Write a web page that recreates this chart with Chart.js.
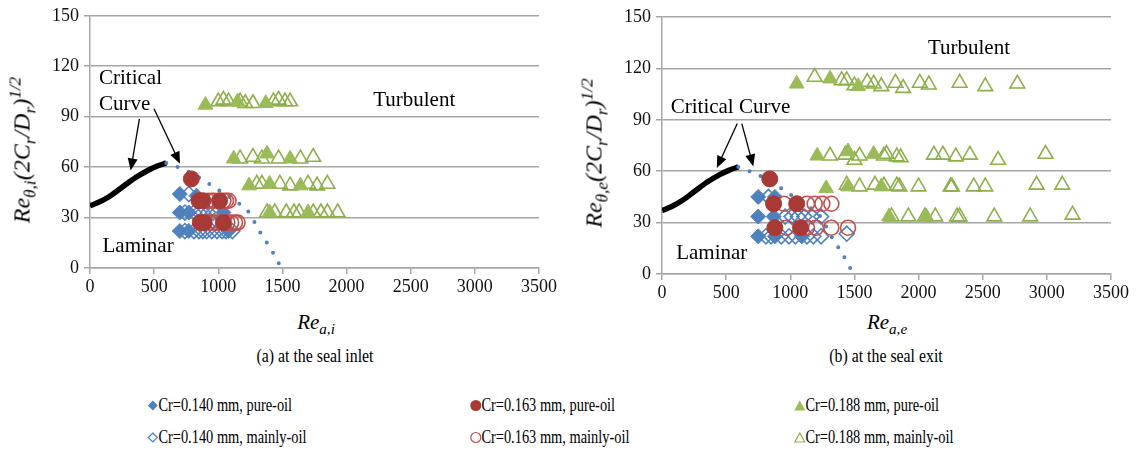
<!DOCTYPE html>
<html>
<head>
<meta charset="utf-8">
<script src="https://cdn.jsdelivr.net/npm/chart.js@4.4.1/dist/chart.umd.min.js"></script>
<style>
  body { margin: 0; background: #fff; width: 1138px; height: 454px; position: relative; overflow: hidden;
         font-family: "Liberation Serif", "Times New Roman", Tinos, "DejaVu Serif", serif; color: #000; }
  .pane { position: absolute; top: 0; }
  .lbl { position: absolute; white-space: nowrap; font-size: 18px; transform: translate(-50%, -50%); }
  .cap { font-size: 18px; transform: translate(-50%, -50%) scaleX(0.88); }
  .ax { font-style: italic; font-size: 21px; }
  .ytitle { transform: translate(-50%, -50%) rotate(-90deg); font-size: 24px; }
  sub, sup { font-size: 72%; line-height: 0; }
  .leg { position: absolute; font-size: 18px; white-space: nowrap; display: flex; align-items: center;
         transform: translateY(-50%) scaleX(0.8); transform-origin: left center; }
  .leg svg { margin-right: 1px; transform: scaleX(1.25); }
</style>
</head>
<body>

<div class="pane" style="left:0"><canvas id="inlet" width="569" height="300"></canvas></div>
<div class="pane" style="left:572px"><canvas id="exit" width="566" height="306"></canvas></div>

<div class="lbl ax" style="left:316px; top:322px">Re<sub>a,i</sub></div>
<div class="lbl ax" style="left:887px; top:322px">Re<sub>a,e</sub></div>
<div class="lbl ax ytitle" style="left:22px; top:150px">Re<sub>θ,i</sub>(2C<sub>r</sub>/D<sub>r</sub>)<sup>1/2</sup></div>
<div class="lbl ax ytitle" style="left:594px; top:153px">Re<sub>θ,e</sub>(2C<sub>r</sub>/D<sub>r</sub>)<sup>1/2</sup></div>
<div class="lbl cap" style="left:315px; top:356px">(a) at the seal inlet</div>
<div class="lbl cap" style="left:886px; top:356px">(b) at the seal exit</div>

<div id="legend"></div>

<script>
// critical curve (solid) and its continuation (dotted)
const critX = [0, 80, 160, 250, 350, 450, 520, 595];
const critY = [37, 39.5, 43, 48, 53.5, 58, 60.5, 62.5];
const dotX = [595, 700, 800, 900, 1000, 1100, 1150, 1200, 1250, 1300, 1350, 1400, 1450, 1490];
const dotY = [62.5, 59.5, 56, 51.5, 46.5, 41.5, 39, 36, 32, 24.5, 18.5, 12.5, 6, 0];

// seal inlet
const inBluePureX = [700, 830, 700, 770, 1040, 700, 770, 1080];
const inBluePureY = [44, 43, 33, 33, 33, 22, 22, 22];
const inBlueMainX = [770, 740, 810, 850, 880, 920, 960, 990, 740, 810, 850, 880, 910, 950, 990, 1030, 1060, 1110];
const inBlueMainY = [44, 33, 33, 33, 33, 33, 33, 33, 22, 22, 22, 22, 22, 22, 22, 22, 22, 22];
const inRedPureX = [790, 850, 880, 1010, 860, 890, 1040];
const inRedPureY = [53, 40, 40, 40, 27, 27, 27];
const inRedMainX = [920, 950, 970, 1040, 1060, 1080, 930, 960, 990, 1070, 1100, 1130, 1150];
const inRedMainY = [40, 40, 40, 40, 40, 40, 27, 27, 27, 27, 27, 27, 27];
const inGreenPureX = [900, 1150, 1370, 1120, 1380, 1560, 1240, 1400, 1640, 1400, 1700];
const inGreenPureY = [97, 99, 98, 65, 68, 65, 49, 50, 49, 33, 33];
const inGreenMainX = [1000, 1040, 1080, 1170, 1210, 1270, 1430, 1470, 1520, 1560,
                      1170, 1270, 1340, 1470, 1640, 1740,
                      1300, 1340, 1480, 1560, 1700, 1770, 1850,
                      1380, 1440, 1530, 1590, 1630, 1740, 1800, 1850, 1930];
const inGreenMainY = [99, 100, 99, 99, 98, 98, 99, 100, 99, 99,
                      65, 66, 65, 65, 65, 66,
                      50, 50, 50, 49, 50, 49, 50,
                      33, 33, 33, 33, 33, 33, 33, 33, 33];

// seal exit
const exBluePureX = [750, 880, 750, 870, 750, 880, 1090];
const exBluePureY = [45, 45, 33.5, 33.5, 22, 22, 22];
const exBlueMainX = [830, 960, 1010, 1060, 1110, 1170, 1240, 810, 850, 930, 990, 1040, 1130, 1180, 1240, 1440];
const exBlueMainY = [45, 33.5, 33.5, 33.5, 33.5, 33.5, 33.5, 22, 22, 22, 22, 22, 22, 22, 22, 23.5];
const exRedPureX = [840, 870, 1050, 880, 1080];
const exRedPureY = [55.5, 41, 41, 27, 27];
const exRedMainX = [950, 1130, 1190, 1250, 1320, 970, 1130, 1200, 1320, 1450];
const exRedMainY = [41, 41, 41, 41, 41, 27, 27, 27, 27, 27];
const exGreenPureX = [1050, 1310, 1530, 1210, 1450, 1650, 1280, 1450, 1710, 1770, 2060];
const exGreenPureY = [111, 114, 109.5, 69, 71.5, 70, 50, 51, 51, 33.5, 33.5];
const exGreenMainX = [1190, 1400, 1440, 1500, 1600, 1650, 1710, 1820, 1880, 2010, 2080, 2320, 2520, 2770,
                      1310, 1430, 1500, 1540, 1730, 1750, 1830, 1860, 2120, 2190, 2290, 2400, 2620, 2990,
                      1440, 1540, 1660, 1730, 1830, 1850, 2000, 2250, 2260, 2430, 2520, 2920, 3120,
                      1790, 1920, 2050, 2130, 2300, 2320, 2590, 2870, 3200];
const exGreenMainY = [115, 113, 113, 110, 112, 111, 109.5, 111.5, 108.5, 111.5, 110.5, 111.5, 109.5, 111,
                      69, 69.5, 66.5, 69, 69, 70, 68.5, 68, 69.5, 69.5, 68.5, 69.5, 66.5, 70,
                      52, 51, 52, 51.5, 51.5, 51, 51, 51, 51, 51, 51, 52, 52,
                      33.5, 33.5, 33.5, 33.5, 33.5, 33.5, 33.5, 33.5, 34.5];

const xTicks = [0, 500, 1000, 1500, 2000, 2500, 3000, 3500];
const yTicks = [0, 30, 60, 90, 120, 150];

const seriesNames = ['Cr=0.140 mm, pure-oil', 'Cr=0.163 mm, pure-oil', 'Cr=0.188 mm, pure-oil',
                     'Cr=0.140 mm, mainly-oil', 'Cr=0.163 mm, mainly-oil', 'Cr=0.188 mm, mainly-oil'];

const BLUE = '#4F81BD', RED = '#A83A36', RED_OPEN = '#C0504D', GREEN = '#9BBB59', GREEN_OPEN = '#8DAF4C';
const GRID = '#A6A6A6';
const SERIF = '"Liberation Serif", "Times New Roman", Tinos, "DejaVu Serif", serif';

function pts(xs, ys) {
  return xs.map((v, i) => ({ x: v, y: ys[i] }));
}

// text labels and arrows placed in data coordinates
const notesPlugin = {
  id: 'notes',
  afterDatasetsDraw(chart, args, opts) {
    const { ctx, scales: { x, y } } = chart;
    ctx.save();
    ctx.fillStyle = '#000';
    ctx.strokeStyle = '#000';
    ctx.font = '21px ' + SERIF;
    ctx.textBaseline = 'middle';
    (opts.texts || []).forEach(t => {
      ctx.textAlign = t.align || 'center';
      ctx.fillText(t.text, x.getPixelForValue(t.x), y.getPixelForValue(t.y));
    });
    (opts.arrows || []).forEach(a => {
      const x0 = x.getPixelForValue(a[0]), y0 = y.getPixelForValue(a[1]);
      const x1 = x.getPixelForValue(a[2]), y1 = y.getPixelForValue(a[3]);
      const ang = Math.atan2(y1 - y0, x1 - x0);
      const c = Math.cos(ang), s = Math.sin(ang);
      ctx.lineWidth = 1.3;
      ctx.beginPath();
      ctx.moveTo(x0, y0);
      ctx.lineTo(x1 - 8 * c, y1 - 8 * s);
      ctx.stroke();
      ctx.beginPath();
      ctx.moveTo(x1, y1);
      ctx.lineTo(x1 - 12 * c + 5 * s, y1 - 12 * s - 5 * c);
      ctx.lineTo(x1 - 12 * c - 5 * s, y1 - 12 * s + 5 * c);
      ctx.closePath();
      ctx.fill();
    });
    ctx.restore();
  }
};

function markers(data, style, color, filled, radius) {
  return {
    type: 'scatter',
    data: data,
    pointStyle: style,
    pointRadius: radius,
    pointHoverRadius: radius,
    pointBorderWidth: filled ? 1 : 1.6,
    pointBackgroundColor: filled ? color : 'rgba(255,255,255,0)',
    pointBorderColor: color,
    showLine: false
  };
}

function makeChart(id, s, notes, top) {
  // first dataset is painted last (on top)
  const datasets = [
    markers(pts(s.redPureX, s.redPureY), 'circle', RED, true, 8),
    markers(pts(s.redMainX, s.redMainY), 'circle', RED_OPEN, false, 7.5),
    markers(pts(s.bluePureX, s.bluePureY), 'rectRot', BLUE, true, 7.5),
    markers(pts(s.blueMainX, s.blueMainY), 'rectRot', BLUE, false, 7.5),
    markers(pts(s.greenPureX, s.greenPureY), 'triangle', GREEN, true, 8.5),
    markers(pts(s.greenMainX, s.greenMainY), 'triangle', GREEN_OPEN, false, 8.5),
    {
      type: 'line', data: pts(dotX, dotY), borderColor: BLUE, borderWidth: 4,
      borderDash: [0, 12], borderCapStyle: 'round', pointRadius: 0, cubicInterpolationMode: 'monotone', fill: false
    },
    {
      type: 'line', data: pts(critX, critY), borderColor: '#000', borderWidth: 5.5,
      pointRadius: 0, cubicInterpolationMode: 'monotone', fill: false
    }
  ];

  return new Chart(document.getElementById(id), {
    type: 'scatter',
    data: { datasets },
    plugins: [notesPlugin],
    options: {
      responsive: false,
      animation: false,
      layout: { padding: { left: 0, right: id === 'inlet' ? 30 : 27, top: top, bottom: 0 } },
      plugins: { legend: { display: false }, tooltip: { enabled: false }, notes: notes },
      scales: {
        x: {
          type: 'linear', min: 0, max: 3500,
          afterBuildTicks: sc => { sc.ticks = xTicks.map(v => ({ value: v })); },
          afterFit: sc => { sc.height = 32; },
          grid: { drawOnChartArea: false, drawTicks: true, tickLength: 6, color: GRID, lineWidth: 1.5 },
          border: { display: true, color: GRID, width: 1.5 },
          ticks: { color: '#111', padding: 2, maxRotation: 0, callback: v => String(v), font: { family: SERIF, size: 18 } }
        },
        y: {
          type: 'linear', min: 0, max: 150,
          afterBuildTicks: sc => { sc.ticks = yTicks.map(v => ({ value: v })); },
          afterFit: sc => { sc.width = 90; },
          grid: { drawOnChartArea: true, drawTicks: true, tickLength: 6, color: GRID, lineWidth: 1.5 },
          border: { display: true, color: GRID, width: 1.5 },
          ticks: { color: '#111', padding: 5, callback: v => String(v), font: { family: SERIF, size: 18 } }
        }
      }
    }
  });
}

makeChart('inlet', {
  bluePureX: inBluePureX, bluePureY: inBluePureY, blueMainX: inBlueMainX, blueMainY: inBlueMainY,
  redPureX: inRedPureX, redPureY: inRedPureY, redMainX: inRedMainX, redMainY: inRedMainY,
  greenPureX: inGreenPureX, greenPureY: inGreenPureY, greenMainX: inGreenMainX, greenMainY: inGreenMainY
}, {
  texts: [
    { text: 'Critical', x: 70, y: 112.5, align: 'left' },
    { text: 'Curve', x: 70, y: 97, align: 'left' },
    { text: 'Turbulent', x: 2527, y: 99.6 },
    { text: 'Laminar', x: 375, y: 12.5 }
  ],
  arrows: [[385, 88.7, 317, 58], [499, 94.7, 702, 62]]
}, 15);

makeChart('exit', {
  bluePureX: exBluePureX, bluePureY: exBluePureY, blueMainX: exBlueMainX, blueMainY: exBlueMainY,
  redPureX: exRedPureX, redPureY: exRedPureY, redMainX: exRedMainX, redMainY: exRedMainY,
  greenPureX: exGreenPureX, greenPureY: exGreenPureY, greenMainX: exGreenMainX, greenMainY: exGreenMainY
}, {
  texts: [
    { text: 'Critical Curve', x: 68, y: 96.9, align: 'left' },
    { text: 'Turbulent', x: 2393, y: 131.4 },
    { text: 'Laminar', x: 388, y: 12.1 }
  ],
  arrows: [[587, 87.8, 427, 61.8], [622, 87.8, 712, 62.8]]
}, 17);

// legend below both panels
const legendIcons = [
  '<path d="M6 1 L11 6 L6 11 L1 6 Z" fill="' + BLUE + '"/>',
  '<circle cx="6" cy="6" r="5.5" fill="' + RED + '"/>',
  '<path d="M6 1 L11.5 11 L0.5 11 Z" fill="' + GREEN + '"/>',
  '<path d="M6 1.5 L10.5 6 L6 10.5 L1.5 6 Z" fill="none" stroke="' + BLUE + '" stroke-width="1.2"/>',
  '<circle cx="6" cy="6" r="5" fill="none" stroke="' + RED_OPEN + '" stroke-width="1.2"/>',
  '<path d="M6 1.5 L11 10.5 L1 10.5 Z" fill="none" stroke="' + GREEN_OPEN + '" stroke-width="1.2"/>'
];
const legendCols = [148, 471, 795];
const legendRows = [405, 437];
const legendBox = document.getElementById('legend');
seriesNames.forEach((name, i) => {
  const el = document.createElement('div');
  el.className = 'leg';
  el.style.left = legendCols[i % 3] + 'px';
  el.style.top = legendRows[Math.floor(i / 3)] + 'px';
  el.innerHTML = '<svg width="12" height="12" viewBox="0 0 12 12">' + legendIcons[i] + '</svg>' + name;
  legendBox.appendChild(el);
});
</script>
</body>
</html>
